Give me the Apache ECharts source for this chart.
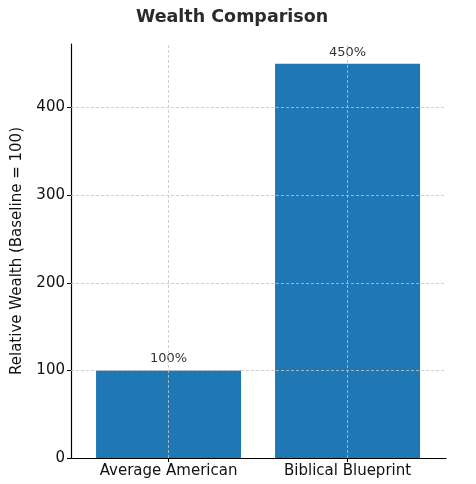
<!DOCTYPE html>
<html>
<head>
<meta charset="utf-8">
<script src="https://cdn.jsdelivr.net/npm/echarts@6/dist/echarts.min.js"></script>
<style>
  html, body { margin: 0; padding: 0; background: #fff; }
  #chart { width: 476px; height: 484px; }
</style>
</head>
<body>
<div id="chart"></div>
<script>
// data
const categories = ['Average American', 'Biblical Blueprint'];
const wealthValues = [100, 450];
const yTicks = [0, 100, 200, 300, 400];
const xPositions = categories.map((c, i) => i);

const font = 'DejaVu Sans';
const gridLine = { color: '#c4c4c4', width: 0.8, type: [3, 2] };

const chart = echarts.init(document.getElementById('chart'));

chart.setOption({
    animation: false,
    title: {
        text: 'Wealth Comparison',
        left: 131,
        top: 3,
        textStyle: { fontFamily: font, fontSize: 17.5, fontWeight: 'bold', color: '#2b2b2b' }
    },
    grid: { left: 71, right: 30, top: 44, bottom: 26 },
    xAxis: {
        type: 'value',
        min: -0.545,
        max: 1.55,
        axisLine: { show: true, onZero: false, lineStyle: { color: '#000', width: 1.2 } },
        axisTick: { show: true, length: 4, customValues: xPositions, lineStyle: { color: '#000' } },
        axisLabel: {
            fontFamily: font, fontSize: 15, color: '#111', margin: 6,
            customValues: xPositions,
            formatter: v => categories[Math.round(v)] || ''
        },
        splitLine: { show: false }
    },
    yAxis: {
        type: 'value',
        min: 0,
        max: 472.5,
        interval: 100,
        name: 'Relative Wealth (Baseline = 100)',
        nameLocation: 'middle',
        nameGap: 46,
        nameTextStyle: { fontFamily: font, fontSize: 15, color: '#111' },
        axisLine: { show: true, onZero: false, lineStyle: { color: '#000', width: 1.2 } },
        axisTick: { show: true, length: 4, customValues: yTicks, lineStyle: { color: '#000' } },
        axisLabel: { fontFamily: font, fontSize: 15, color: '#111', margin: 6, customValues: yTicks },
        splitLine: { show: false }
    },
    series: [{
        type: 'bar',
        data: wealthValues.map((v, i) => [xPositions[i], v]),
        barWidth: 145,
        itemStyle: { color: '#1f77b4' },
        label: {
            show: true,
            position: 'top',
            distance: 5,
            formatter: p => p.value[1] + '%',
            fontFamily: font,
            fontSize: 13,
            color: '#333'
        },
        markLine: {
            silent: true,
            symbol: 'none',
            label: { show: false },
            lineStyle: gridLine,
            data: yTicks.filter(v => v > 0).map(v => ({ yAxis: v }))
                .concat(xPositions.map(x => ({ xAxis: x })))
        }
    }]
});
</script>
</body>
</html>
